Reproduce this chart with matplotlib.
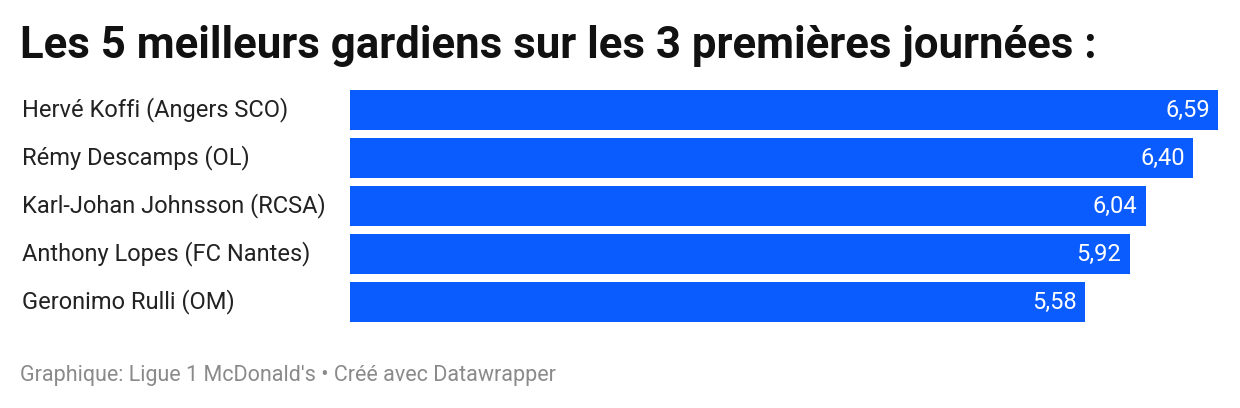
import matplotlib
matplotlib.use("Agg")
import matplotlib.pyplot as plt

players = ["Hervé Koffi (Angers SCO)", "Rémy Descamps (OL)", "Karl-Johan Johnsson (RCSA)",
           "Anthony Lopes (FC Nantes)", "Geronimo Rulli (OM)"]
ratings = [6.59, 6.40, 6.04, 5.92, 5.58]
labels = ["6,59", "6,40", "6,04", "5,92", "5,58"]

plt.rcParams['font.family'] = ['Roboto', 'DejaVu Sans']
W, H = 1240, 408
fig = plt.figure(figsize=(W/100, H/100), dpi=100)
ax = fig.add_axes([350/W, 1-326/H, 868/W, 240/H])
y = list(range(len(players)))
ax.barh(y, ratings, height=40/48, color="#0b5cff")
ax.set_xlim(0, max(ratings))
ax.set_ylim(len(players)-0.5, -0.5)
ax.axis("off")
for yi, v, lab, name in zip(y, ratings, labels, players):
    ax.annotate(lab, (v, yi), xytext=(-6, 0), textcoords="offset points",
                ha="right", va="center", color="white", fontsize=17)
    fig.text(22/W, 1-(110+48*yi)/H, name, ha="left", va="center", fontsize=17, color="#222222")
fig.text(20/W, 1-46/H, "Les 5 meilleurs gardiens sur les 3 premières journées :",
         fontsize=31.5, fontweight="bold", ha="left", va="center", color="#111111")
fig.text(20/W, 1-375/H, "Graphique: Ligue 1 McDonald's • Créé avec Datawrapper",
         fontsize=15.5, ha="left", va="center", color="#8a8a8a")
fig.savefig("out.png", dpi=100)
